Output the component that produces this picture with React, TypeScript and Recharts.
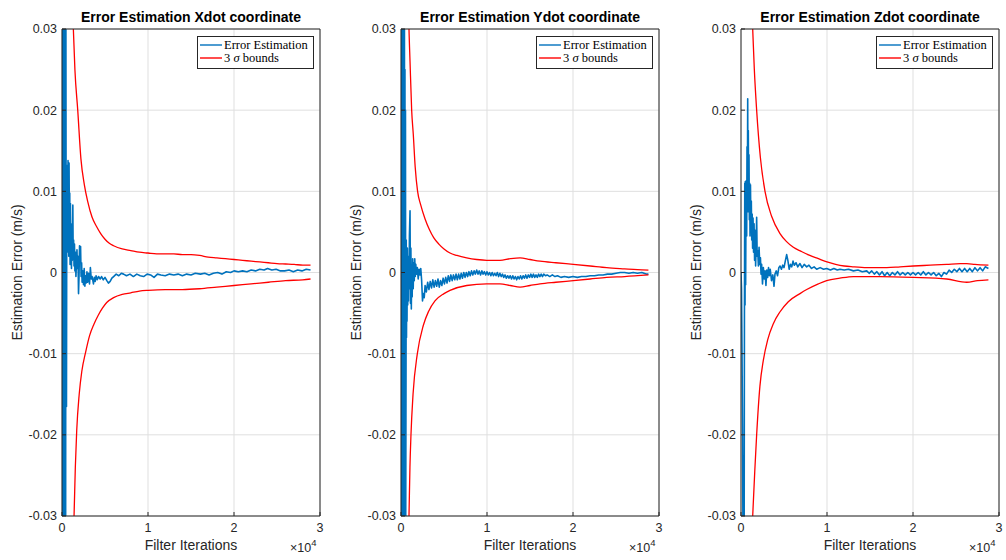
import React from 'react';
import { LineChart, Line, XAxis, YAxis, CartesianGrid, Legend, Label } from 'recharts';

// iterations (x) and estimation error in m/s (y)
const ITER_TICKS = [0, 10000, 20000, 30000];
const ERR_TICKS = [-0.03, -0.02, -0.01, 0, 0.01, 0.02, 0.03];

const XDOT_ERROR: [number, number][] = [
  [0, 0], [20, 0.04], [40, -0.045], [60, 0.05], [80, -0.04], [100, 0.026], [120, -0.05], [150, 0.045],
  [180, -0.035], [210, 0.04], [240, -0.05], [270, 0.035], [300, -0.04], [330, 0.05], [360, -0.03],
  [390, 0.04], [420, -0.045], [450, 0.035], [480, 0.002], [520, -0.0165], [550, 0.004], [580, 0.012],
  [610, 0.0025], [640, 0.0132], [670, 0.006], [700, 0.0138], [730, 0.004], [760, 0.0125], [790, 0.002],
  [820, 0.0135], [860, 0.0055], [900, 0.0098], [940, 0.001], [980, 0.0085], [1020, 0.003], [1060, 0.006],
  [1100, 0.0005], [1150, 0.0045], [1200, 0.0015], [1260, 0.0083], [1300, 0.002], [1350, 0.004],
  [1400, 0.0008], [1450, 0.0035], [1500, 0.0002], [1560, 0.0025], [1620, -0.0005], [1680, 0.0012],
  [1740, 0.0028], [1800, 0.0005], [1860, 0.002], [1920, -0.0026], [1980, -0.0005], [2040, 0.0033],
  [2100, 0.0018], [2160, 0.0032], [2220, -0.0005], [2280, 0.0012], [2340, -0.0012], [2420, 0.0002],
  [2500, -0.0015], [2580, 0.0005], [2660, -0.0017], [2740, -0.0004], [2820, -0.0013], [2900, 0.0001],
  [2980, -0.0012], [3080, -0.0001], [3200, -0.0014], [3300, 0.0006], [3400, -0.0008], [3500, -0.0005],
  [3660, -0.0014], [3760, -0.0006], [3860, -0.0011], [3960, -0.0004], [4100, -0.0009], [4250, -0.0005],
  [4435, -0.0008], [4600, -0.0005], [4800, -0.0009], [5000, -0.0006], [5213, -0.001], [5400, -0.0013],
  [5600, -0.0011], [5800, -0.0007], [6000, -0.0005], [6300, -0.0002], [6600, -0.0004], [6900, -0.0001],
  [7160, -0.0002], [7500, -0.0004], [7900, -0.0002], [8300, -0.0005], [8700, -0.0002], [9100, -0.0004],
  [9490, -0.0005], [9900, -0.0002], [10300, -0.0003], [10700, -0.0006], [11100, -0.0002], [11500, -0.0003],
  [12000, -0.0004], [12500, -0.0002], [13000, -0.0003], [13500, -0.0002], [14000, -0.0004], [14500, -0.0002],
  [15000, -0.0003], [15500, -0.0001], [16100, -0.0002], [16600, -0.0001], [17100, -0.0003], [17600, -0.0001],
  [18100, 0], [18600, -0.0002], [19100, 0.0001], [19600, 0], [20000, 0.0002], [20500, 0.0001],
  [21000, 0.0002], [21500, 0.0001], [22000, 0.0003], [22500, 0.0002], [23000, 0.0004], [23500, 0.0003],
  [23900, 0.0005], [24400, 0.0003], [24900, 0.0004], [25400, 0.0002], [25900, 0.0002], [26400, 0.0003],
  [26900, 0.0001], [27400, 0.0003], [27900, 0.0002], [28400, 0.0004], [28900, 0.0003],
];
const XDOT_UPPER: [number, number][] = [
  [1200, 0.034], [1320, 0.03], [1500, 0.025], [1830, 0.02], [2200, 0.014], [2600, 0.0108], [3000, 0.0087],
  [3500, 0.0068], [4000, 0.0057], [4500, 0.0048], [5000, 0.0041], [5500, 0.0036], [6000, 0.0033],
  [7000, 0.0029], [8000, 0.0027], [9000, 0.0025], [10000, 0.0024], [11000, 0.0023], [12000, 0.0023],
  [13000, 0.0023], [14000, 0.0022], [15000, 0.0022], [16000, 0.0021], [17000, 0.0019], [18000, 0.0018],
  [19000, 0.0017], [20000, 0.0016], [21000, 0.0015], [22000, 0.0014], [23000, 0.0013], [24000, 0.0012],
  [25000, 0.0011], [26000, 0.00105], [27000, 0.001], [28000, 0.0009], [28900, 0.0009],
];
const XDOT_LOWER: [number, number][] = [
  [1250, -0.034], [1400, -0.03], [1550, -0.024], [1710, -0.0195], [2000, -0.015], [2300, -0.0122],
  [2750, -0.0098], [3200, -0.0078], [3700, -0.0064], [4200, -0.0053], [4700, -0.0044], [5200, -0.0037],
  [6000, -0.0031], [7000, -0.0027], [8000, -0.0025], [9000, -0.0023], [10000, -0.0022], [12000, -0.0021],
  [14000, -0.0021], [16000, -0.002], [18000, -0.0018], [20000, -0.0016], [22000, -0.0014], [24000, -0.0012],
  [26000, -0.001], [28000, -0.0009], [28900, -0.0008],
];

const YDOT_ERROR: [number, number][] = [
  [0, 0], [20, 0.05], [40, -0.05], [60, 0.04], [80, -0.04], [100, 0.05], [130, -0.045], [160, 0.035],
  [190, -0.05], [220, 0.045], [250, -0.04], [280, 0.05], [310, -0.035], [340, 0.04], [370, -0.05],
  [400, 0.03], [430, -0.045], [460, 0.025], [490, -0.035], [520, 0.02], [550, -0.03], [580, -0.0145],
  [610, 0.004], [640, -0.008], [670, 0.001], [700, -0.006], [740, 0.003], [780, -0.004], [820, 0.002],
  [860, -0.0035], [900, 0.0015], [940, -0.002], [980, 0.0045], [1050, 0.0076], [1100, -0.0038],
  [1150, 0.003], [1200, -0.0045], [1250, 0.0005], [1300, -0.003], [1360, 0.0017], [1420, -0.002],
  [1480, 0.0012], [1540, -0.001], [1600, 0.0017], [1660, -0.0005], [1720, 0.001], [1800, -0.0002],
  [1900, 0.0006], [2000, -0.0008], [2100, 0.0004], [2200, -0.0003], [2300, 0.0005], [2400, -0.001],
  [2500, -0.0035], [2600, -0.0026], [2700, -0.0031], [2800, -0.0016], [2950, -0.0024], [3100, -0.0012],
  [3250, -0.0021], [3400, -0.0011], [3550, -0.0019], [3700, -0.0009], [3850, -0.0018], [4000, -0.001],
  [4150, -0.0017], [4300, -0.0008], [4450, -0.0018], [4600, -0.001], [4750, -0.0016], [4900, -0.0007],
  [5050, -0.0014], [5200, -0.0006], [5350, -0.0013], [5500, -0.0004], [5650, -0.0011], [5800, -0.0003],
  [5950, -0.001], [6100, -0.0003], [6250, -0.0009], [6400, -0.0002], [6550, -0.0009], [6700, -0.0002],
  [6850, -0.0008], [7000, -0.0001], [7150, -0.0007], [7300, 0], [7450, -0.0006], [7600, 0],
  [7750, -0.0005], [7900, 0.0001], [8050, -0.0004], [8200, 0.0002], [8350, -0.0003], [8500, 0.0002],
  [8650, -0.0002], [8800, 0.0003], [8950, -0.0002], [9100, 0.0002], [9250, -0.0003], [9400, 0.0002],
  [9550, -0.0002], [9700, 0.0001], [9850, -0.0003], [10000, 0.0001], [10150, -0.0003], [10300, 0],
  [10450, -0.0004], [10600, 0], [10750, -0.0004], [10900, -0.0001], [11050, -0.0004], [11200, 0],
  [11350, -0.0005], [11500, -0.0001], [11650, -0.0005], [11800, -0.0002], [11950, -0.0006], [12100, -0.0003],
  [12250, -0.0007], [12400, -0.0004], [12550, -0.0007], [12700, -0.0004], [12850, -0.0008], [13000, -0.0004],
  [13150, -0.0008], [13300, -0.0005], [13450, -0.0009], [13600, -0.0005], [13750, -0.0008], [13900, -0.0004],
  [14050, -0.0008], [14200, -0.0004], [14350, -0.0007], [14500, -0.0003], [14650, -0.0007], [14800, -0.0003],
  [14950, -0.0006], [15100, -0.0002], [15250, -0.0006], [15400, -0.0002], [15550, -0.0006], [15700, -0.0003],
  [15850, -0.0006], [16000, -0.0002], [16150, -0.0005], [16300, -0.0002], [16450, -0.0005], [16600, -0.0002],
  [16800, -0.0004], [17000, -0.0003], [17300, -0.0005], [17600, -0.0003], [17900, -0.0005], [18200, -0.0004],
  [18600, -0.0006], [19000, -0.0005], [19500, -0.0006], [20000, -0.0005], [20500, -0.0006], [21000, -0.0005],
  [21500, -0.0005], [22000, -0.0004], [22500, -0.0004], [23000, -0.0003], [23500, -0.0003], [24000, -0.0002],
  [24500, -0.0002], [25000, -0.0001], [25500, 0], [26000, 0], [26500, -0.0001], [27000, 0],
  [27500, -0.0001], [28000, 0], [28500, -0.0002], [28770, -0.0002],
];
const YDOT_UPPER: [number, number][] = [
  [850, 0.034], [930, 0.03], [1050, 0.026], [1240, 0.02], [1430, 0.017], [1650, 0.013], [1930, 0.01],
  [2300, 0.0083], [2800, 0.0066], [3300, 0.0053], [3800, 0.0043], [4400, 0.0035], [5000, 0.0029],
  [5700, 0.0024], [6500, 0.0021], [7640, 0.0018], [8800, 0.0016], [9960, 0.0015], [11510, 0.0015],
  [12700, 0.0017], [13840, 0.0018], [15000, 0.0016], [16170, 0.0014], [18000, 0.0012], [20040, 0.001],
  [22000, 0.0008], [23920, 0.0006], [26000, 0.00045], [27500, 0.00035], [28770, 0.0003],
];
const YDOT_LOWER: [number, number][] = [
  [850, -0.034], [930, -0.03], [1040, -0.024], [1160, -0.02], [1400, -0.015], [1900, -0.01],
  [2600, -0.0065], [3200, -0.0048], [3950, -0.0035], [5000, -0.0026], [5700, -0.0022], [7640, -0.0016],
  [9960, -0.0014], [11510, -0.0014], [12700, -0.0016], [13840, -0.0018], [15000, -0.0016], [16170, -0.0014],
  [18000, -0.0012], [20040, -0.001], [22000, -0.0008], [23920, -0.0006], [26000, -0.0005], [28770, -0.0003],
];

const ZDOT_ERROR: [number, number][] = [
  [0, 0], [60, -0.002], [120, -0.01], [180, -0.02], [240, -0.035], [300, -0.05], [360, -0.04],
  [400, -0.005], [440, 0.011], [470, -0.004], [500, 0.0112], [540, -0.0015], [580, 0.008], [620, 0.0113],
  [660, 0.0045], [700, 0.0155], [740, 0.009], [780, 0.0214], [810, 0.0075], [850, 0.0175], [890, 0.0085],
  [930, 0.0145], [970, 0.0065], [1010, 0.011], [1050, 0.0045], [1100, 0.0108], [1150, 0.006],
  [1200, 0.0088], [1250, 0.004], [1300, 0.0072], [1350, 0.003], [1400, 0.0067], [1460, 0.0025],
  [1520, 0.006], [1580, 0.0015], [1640, 0.0052], [1700, 0.0008], [1760, 0.0035], [1820, 0.0068],
  [1880, 0.002], [1950, 0.0027], [2020, 0.0008], [2100, 0.0031], [2180, 0.001], [2260, 0.0018],
  [2330, -0.0002], [2400, 0.001], [2500, -0.0014], [2600, 0.0006], [2700, -0.0008], [2800, 0.0002],
  [2900, -0.0016], [3000, 0.0003], [3100, -0.0006], [3200, 0.0006], [3300, -0.0004], [3400, 0.0004],
  [3550, -0.001], [3700, -0.0003], [3840, -0.0017], [3950, -0.0002], [4100, 0.0002], [4250, -0.0004],
  [4400, 0.0006], [4535, 0.0008], [4700, 0.0004], [4850, 0.0009], [5000, 0.0006], [5150, 0.0014],
  [5310, 0.0022], [5450, 0.0015], [5600, 0.0004], [5750, 0.001], [5900, 0.0007], [6050, 0.0014],
  [6200, 0.0009], [6400, 0.0012], [6600, 0.0007], [6860, 0.0011], [7100, 0.0006], [7350, 0.001],
  [7640, 0.0007], [7900, 0.0009], [8200, 0.0005], [8500, 0.0007], [8800, 0.0004], [9200, 0.0006],
  [9600, 0.0004], [9960, 0.0005], [10400, 0.0003], [10800, 0.0005], [11200, 0.0003], [11510, 0.0004],
  [12000, 0.0003], [12500, 0.0004], [13070, 0.0002], [13600, 0.0003], [14100, 0.0001], [14620, 0.0002],
  [14900, -0.0001], [15200, 0.0002], [15500, -0.0002], [15800, 0.0001], [16100, -0.0003], [16400, 0.0001],
  [16700, -0.0004], [17000, 0], [17300, -0.0004], [17600, 0], [17900, -0.0003], [18200, 0.0001],
  [18500, -0.0003], [18800, 0], [19100, -0.0003], [19400, 0], [19700, -0.0003], [20000, 0],
  [20300, -0.0003], [20600, 0], [20900, -0.0003], [21200, 0.0001], [21500, -0.0003], [21800, 0],
  [22100, -0.0003], [22400, 0], [22700, -0.0004], [23000, -0.0001], [23300, -0.0005], [23600, 0],
  [23900, -0.0002], [24200, 0.0003], [24500, 0], [24800, 0.0004], [25100, 0.0001], [25400, 0.0005],
  [25700, 0.0001], [26000, 0.0005], [26300, 0.0001], [26600, 0.0005], [26900, 0.0001], [27200, 0.0006],
  [27500, 0.0002], [27800, 0.0006], [28100, 0.0002], [28400, 0.0007], [28770, 0.0005],
];
const ZDOT_UPPER: [number, number][] = [
  [1200, 0.034], [1360, 0.03], [1550, 0.025], [1820, 0.02], [2250, 0.0142], [2790, 0.01], [3570, 0.0069],
  [4535, 0.0048], [5300, 0.0038], [6085, 0.0031], [7000, 0.0026], [8000, 0.0021], [9000, 0.0017],
  [10000, 0.0013], [11000, 0.001], [12000, 0.0008], [13000, 0.0007], [14620, 0.0006], [16950, 0.0006],
  [18500, 0.0007], [20040, 0.0008], [22000, 0.0009], [23920, 0.001], [25500, 0.0011], [26250, 0.0011],
  [27200, 0.001], [28770, 0.0009],
];
const ZDOT_LOWER: [number, number][] = [
  [1200, -0.034], [1360, -0.03], [1600, -0.0245], [1820, -0.02], [2200, -0.014], [2600, -0.0108],
  [3100, -0.0083], [3760, -0.0063], [4500, -0.0049], [5500, -0.0036], [6860, -0.0026], [7640, -0.0021],
  [9000, -0.0014], [9960, -0.001], [11500, -0.0007], [13070, -0.0005], [16170, -0.0005], [20040, -0.0006],
  [23920, -0.0008], [26250, -0.0012], [27500, -0.001], [28770, -0.0009],
];

const SANS = '"Liberation Sans", Arial, Helvetica, sans-serif';
const SERIF = '"Liberation Serif", "Times New Roman", serif';
const INK = '#262626';
const BLUE = '#0072BD';
const RED = '#FF0000';

const toPoints = (pairs: [number, number][]) => pairs.map(([it, v]) => ({ it, v }));

const LegendBox = () => (
  <svg width={117} height={33} style={{ display: 'block' }}>
    <rect x={0.5} y={0.5} width={116} height={32} fill="#fff" stroke={INK} strokeWidth={1} />
    <line x1={3} y1={9} x2={25} y2={9} stroke={BLUE} strokeWidth={1.4} />
    <text x={27} y={12.5} fontFamily={SERIF} fontSize={12.5} fill="#000">Error Estimation</text>
    <line x1={3} y1={22} x2={25} y2={22} stroke={RED} strokeWidth={1.4} />
    <text x={27} y={25.5} fontFamily={SERIF} fontSize={12.5} fill="#000">
      3 <tspan fontStyle="italic">σ</tspan> bounds
    </text>
  </svg>
);

interface PanelProps {
  title: string;
  error: [number, number][];
  upper: [number, number][];
  lower: [number, number][];
  left: number;
  plotLeft: number;
}

const Panel: React.FC<PanelProps> = ({ title, error, upper, lower, left, plotLeft }) => {
  const plotRight = plotLeft + 258;
  const mid = plotLeft + 129;
  return (
    <div style={{ position: 'absolute', left, top: 0 }}>
      <LineChart width={340} height={560} margin={{ top: 28, right: 340 - plotRight - 1, bottom: 14, left: plotLeft - 40 }}>
        <CartesianGrid xAxisId="b" yAxisId="l" stroke="#dfdfdf" strokeWidth={1} />
        <XAxis
          xAxisId="b" dataKey="it" type="number" domain={[0, 30000]} ticks={ITER_TICKS} interval={0}
          allowDataOverflow height={30} tickSize={-4} tickMargin={11.5}
          tickFormatter={(v: number) => String(v / 10000)}
          axisLine={{ stroke: INK }} tickLine={{ stroke: INK }}
          tick={{ fill: INK, fontSize: 12.5, fontFamily: SANS }}
        >
          <Label content={() => (
            <text x={mid} y={549.5} textAnchor="middle" fontFamily={SANS} fontSize={14} fill={INK}>Filter Iterations</text>
          )} />
          <Label content={() => (
            <text x={plotRight - 30} y={552} fontFamily={SANS} fontSize={12.5} fill={INK}>
              ×10<tspan dy={-6} fontSize={9.5}>4</tspan>
            </text>
          )} />
        </XAxis>
        <XAxis
          xAxisId="t" orientation="top" dataKey="it" type="number" domain={[0, 30000]} ticks={ITER_TICKS}
          interval={0} allowDataOverflow height={1} tickSize={-4} tick={false}
          axisLine={{ stroke: INK }} tickLine={{ stroke: INK }}
        />
        <YAxis
          yAxisId="l" type="number" domain={[-0.03, 0.03]} ticks={ERR_TICKS} interval={0} allowDataOverflow
          width={40} tickSize={-4} tickMargin={9}
          axisLine={{ stroke: INK }} tickLine={{ stroke: INK }}
          tick={{ fill: INK, fontSize: 12.5, fontFamily: SANS }}
        >
          <Label content={() => (
            <g>
              <text x={mid} y={21.5} textAnchor="middle" fontFamily={SANS} fontSize={14} fontWeight="bold" fill="#000">{title}</text>
              <text x={plotLeft - 45} y={272.5} transform={`rotate(-90 ${plotLeft - 45} 272.5)`} textAnchor="middle"
                dominantBaseline="central" fontFamily={SANS} fontSize={14} fill={INK}>Estimation Error (m/s)</text>
            </g>
          )} />
        </YAxis>
        <YAxis
          yAxisId="r" orientation="right" type="number" domain={[-0.03, 0.03]} ticks={ERR_TICKS} interval={0}
          allowDataOverflow width={1} tickSize={-4} tick={false}
          axisLine={{ stroke: INK }} tickLine={{ stroke: INK }}
        />
        <Line xAxisId="b" yAxisId="l" data={toPoints(error)} dataKey="v" type="linear" stroke={BLUE}
          strokeWidth={1.6} dot={false} isAnimationActive={false} strokeLinejoin="round" />
        <Line xAxisId="b" yAxisId="l" data={toPoints(upper)} dataKey="v" type="monotone" stroke={RED}
          strokeWidth={1.3} dot={false} isAnimationActive={false} />
        <Line xAxisId="b" yAxisId="l" data={toPoints(lower)} dataKey="v" type="monotone" stroke={RED}
          strokeWidth={1.3} dot={false} isAnimationActive={false} />
        <Legend layout="vertical" align="center" verticalAlign="middle" content={() => <LegendBox />}
          wrapperStyle={{ left: plotLeft + 135, top: 36, width: 117, height: 33 }} />
      </LineChart>
    </div>
  );
};

const App: React.FC = () => (
  <div style={{ position: 'absolute', left: 0, top: 0, width: 1006, height: 560, background: '#fff' }}>
    <Panel title="Error Estimation Xdot coordinate" error={XDOT_ERROR} upper={XDOT_UPPER} lower={XDOT_LOWER} left={0} plotLeft={62} />
    <Panel title="Error Estimation Ydot coordinate" error={YDOT_ERROR} upper={YDOT_UPPER} lower={YDOT_LOWER} left={340} plotLeft={61} />
    <Panel title="Error Estimation Zdot coordinate" error={ZDOT_ERROR} upper={ZDOT_UPPER} lower={ZDOT_LOWER} left={680} plotLeft={61} />
  </div>
);

export default App;
